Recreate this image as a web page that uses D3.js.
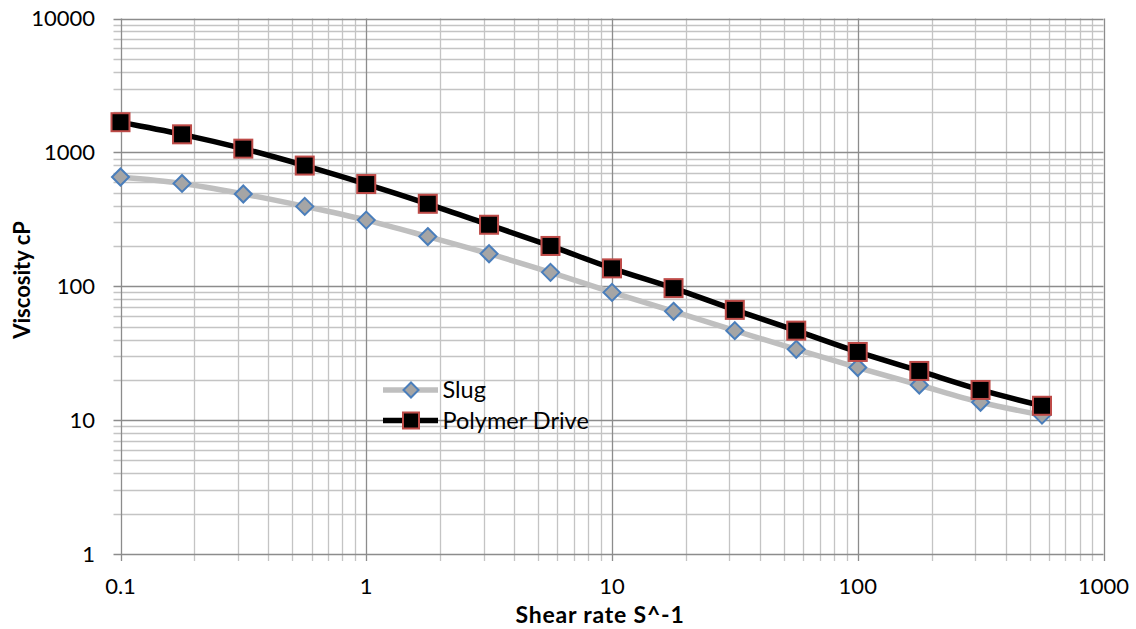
<!DOCTYPE html>
<html>
<head>
<meta charset="utf-8">
<script src="https://cdn.jsdelivr.net/npm/d3@7"></script>
<style>
  html, body { margin: 0; padding: 0; background: #fff; }
  svg { display: block; font-family: Lato, "Open Sans", sans-serif; }
</style>
</head>
<body>
<svg id="chart" width="1136" height="629"></svg>
<script>
// Shear rate (1/s) sample points
const shearRate = [0.1, 0.178, 0.316, 0.562, 1, 1.78, 3.16, 5.62, 10, 17.8, 31.6, 56.2, 100, 178, 316, 562];
// Viscosity (cP) per fluid
const slug = [655, 586, 489, 395, 312, 235, 175, 127, 90, 65, 46.6, 33.8, 24.7, 18.3, 13.6, 10.9];
const polymerDrive = [1680, 1364, 1066, 797, 580, 413, 288, 200, 136, 96.8, 66.6, 46.6, 32.3, 23.3, 16.8, 12.8];
const seriesNames = ["Slug", "Polymer Drive"];
const xTickLabels = [0.1, 1, 10, 100, 1000];
const yTickLabels = [1, 10, 100, 1000, 10000];

const svg = d3.select("#chart");
const W = 1136, H = 629;
const margin = { left: 120.5, right: W - 1103.5, top: 18.5, bottom: H - 554 };

const x = d3.scaleLog().domain([0.1, 1000]).range([margin.left, W - margin.right]);
const y = d3.scaleLog().domain([1, 10000]).range([H - margin.bottom, margin.top]);

// all 1..9 multiples within each decade
function logTicks(lo, hi) {
  const out = [];
  for (let e = Math.log10(lo); e < Math.log10(hi); e++) {
    for (let m = 1; m <= 9; m++) out.push(m * Math.pow(10, e));
  }
  out.push(hi);
  return out.map(v => +v.toPrecision(6));
}
const xAll = logTicks(0.1, 1000);
const yAll = logTicks(1, 10000);
const isMajor = v => Math.abs(Math.log10(v) - Math.round(Math.log10(v))) < 1e-6;

const grid = svg.append("g");
// minor gridlines first, majors on top
const xMinor = xAll.filter(v => !isMajor(v)), xMajor = xAll.filter(isMajor);
const yMinor = yAll.filter(v => !isMajor(v)), yMajor = yAll.filter(isMajor);

grid.selectAll(".vmin").data(xMinor).join("line")
  .attr("x1", d => Math.round(x(d)) + 0.5).attr("x2", d => Math.round(x(d)) + 0.5)
  .attr("y1", y(10000)).attr("y2", y(1) + 7)
  .attr("stroke", "#c4c4c4").attr("stroke-width", 1.3);
grid.selectAll(".hmin").data(yMinor).join("line")
  .attr("y1", d => Math.round(y(d)) + 0.5).attr("y2", d => Math.round(y(d)) + 0.5)
  .attr("x1", x(0.1) - 7).attr("x2", x(1000))
  .attr("stroke", "#c4c4c4").attr("stroke-width", 1.3);
grid.selectAll(".vmaj").data(xMajor).join("line")
  .attr("x1", d => Math.round(x(d)) + 0.5).attr("x2", d => Math.round(x(d)) + 0.5)
  .attr("y1", y(10000)).attr("y2", y(1) + 7)
  .attr("stroke", "#8c8c8c").attr("stroke-width", 1.3);
grid.selectAll(".hmaj").data(yMajor).join("line")
  .attr("y1", d => Math.round(y(d)) + 0.5).attr("y2", d => Math.round(y(d)) + 0.5)
  .attr("x1", x(0.1) - 7).attr("x2", x(1000))
  .attr("stroke", "#8c8c8c").attr("stroke-width", 1.3);

// tick labels
svg.append("g").selectAll("text").data(yTickLabels).join("text")
  .attr("x", 95).attr("y", d => y(d)).attr("dy", "0.36em")
  .attr("text-anchor", "end").attr("font-size", 22).attr("fill", "#000")
  .text(d => d);
svg.append("g").selectAll("text").data(xTickLabels).join("text")
  .attr("x", d => x(d)).attr("y", 594)
  .attr("text-anchor", "middle").attr("font-size", 22).attr("fill", "#000")
  .text(d => d);

// axis titles
svg.append("text")
  .attr("transform", `translate(29.5,280) rotate(-90)`)
  .attr("text-anchor", "middle").attr("font-size", 22).attr("font-weight", "bold")
  .text("Viscosity cP");
svg.append("text")
  .attr("x", 600).attr("y", 623)
  .attr("text-anchor", "middle").attr("font-size", 23).attr("font-weight", "bold")
  .attr("letter-spacing", 0.8)
  .text("Shear rate S^-1");

const line = d3.line().x(d => x(d[0])).y(d => y(d[1])).curve(d3.curveCatmullRom.alpha(0.5));
const slugPts = shearRate.map((r, i) => [r, slug[i]]);
const polyPts = shearRate.map((r, i) => [r, polymerDrive[i]]);

const diamond = s => `M0,${-s}L${s},0L0,${s}L${-s},0Z`;

// Slug series
svg.append("path").datum(slugPts).attr("d", line)
  .attr("fill", "none").attr("stroke", "#bfbfbf").attr("stroke-width", 5.5)
  .attr("stroke-linejoin", "round");
svg.append("g").selectAll("path").data(slugPts).join("path")
  .attr("transform", d => `translate(${x(d[0])},${y(d[1])})`)
  .attr("d", diamond(8.5))
  .attr("fill", "#a5a5a5").attr("stroke", "#4a7ebb").attr("stroke-width", 2);

// Polymer Drive series
svg.append("path").datum(polyPts).attr("d", line)
  .attr("fill", "none").attr("stroke", "#000").attr("stroke-width", 5.5)
  .attr("stroke-linejoin", "round");
svg.append("g").selectAll("rect").data(polyPts).join("rect")
  .attr("x", d => x(d[0]) - 9).attr("y", d => y(d[1]) - 9)
  .attr("width", 18).attr("height", 18)
  .attr("fill", "#000").attr("stroke", "#be4b48").attr("stroke-width", 2);

// legend
const legend = svg.append("g");
const legY = [390, 420.5];
legend.append("line").attr("x1", 383).attr("x2", 438).attr("y1", legY[0]).attr("y2", legY[0])
  .attr("stroke", "#bfbfbf").attr("stroke-width", 5.5);
legend.append("path").attr("transform", `translate(411,${legY[0]})`).attr("d", diamond(7.5))
  .attr("fill", "#a5a5a5").attr("stroke", "#4a7ebb").attr("stroke-width", 2);
legend.append("line").attr("x1", 383).attr("x2", 438).attr("y1", legY[1]).attr("y2", legY[1])
  .attr("stroke", "#000").attr("stroke-width", 5.5);
legend.append("rect").attr("x", 403).attr("y", legY[1] - 8).attr("width", 16).attr("height", 16)
  .attr("fill", "#000").attr("stroke", "#be4b48").attr("stroke-width", 2);
legend.selectAll("text").data(seriesNames).join("text")
  .attr("x", 442.5).attr("y", (d, i) => legY[i]).attr("dy", "0.35em")
  .attr("font-size", 23.5).attr("fill", "#000")
  .text(d => d);
</script>
</body>
</html>
